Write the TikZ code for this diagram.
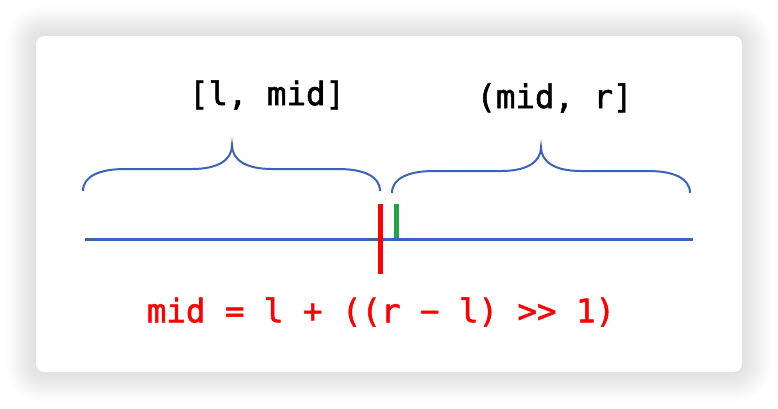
\documentclass[tikz,border=0pt]{standalone}
\usepackage{fontspec}
\newfontfamily\codefont[FakeBold=1.6]{DejaVu Sans Mono}
\definecolor{lineblue}{HTML}{3B63B8}
\definecolor{tickgreen}{HTML}{1FA344}
\definecolor{codered}{HTML}{FF0000}
\begin{document}
\begin{tikzpicture}[x=1pt,y=-1pt,
  brace/.style={draw=lineblue, line width=2pt},
  label/.style={inner sep=0pt, font=\codefont\fontsize{32.4}{36}\selectfont}]
\useasboundingbox (0,0) rectangle (778,408);
\fill[white] (0,0) rectangle (778,408);
% shadow
\foreach \i in {1,...,30}{
  \fill[black, opacity=0.0045, rounded corners={8+\i}]
    (36-\i,36-\i) rectangle (742+\i,372+\i);
}
\fill[white, rounded corners=8] (36,36) rectangle (742,372);
% axis
\coordinate (L) at (85,239.5);
\coordinate (R) at (693,239.5);
\draw[lineblue, line width=3pt] (L) -- (R);
% ticks
\coordinate (rt) at (380.5,204);
\coordinate (rb) at (380.5,274);
\coordinate (gt) at (396.5,204);
\coordinate (gb) at (396.5,237.5);
\draw[codered, line width=4.5pt] (rt) -- (rb);
\draw[tickgreen, line width=4.5pt] (gt) -- (gb);
% left brace
\draw[brace] (83,191) .. controls (83,176) and (100,169) .. (125,169)
  -- (192,169) .. controls (218,169) and (232,160) .. (232,145)
  .. controls (232,160) and (246,169) .. (272,169)
  -- (338,169) .. controls (363,169) and (380,176) .. (380,191);
% right brace
\draw[brace] (392,193) .. controls (392,178) and (409,171) .. (434,171)
  -- (501,171) .. controls (527,171) and (541,162) .. (541,147)
  .. controls (541,162) and (555,171) .. (581,171)
  -- (648,171) .. controls (673,171) and (690,178) .. (690,193);
% labels
\node[label] (lm) at (267,95) {[l, mid]};
\node[label] (mr) at (554.5,98) {(mid, r]};
\node[label, text=codered] (f) at (381,312) {mid = l + ((r − l) >> 1)};
\end{tikzpicture}
\end{document}
